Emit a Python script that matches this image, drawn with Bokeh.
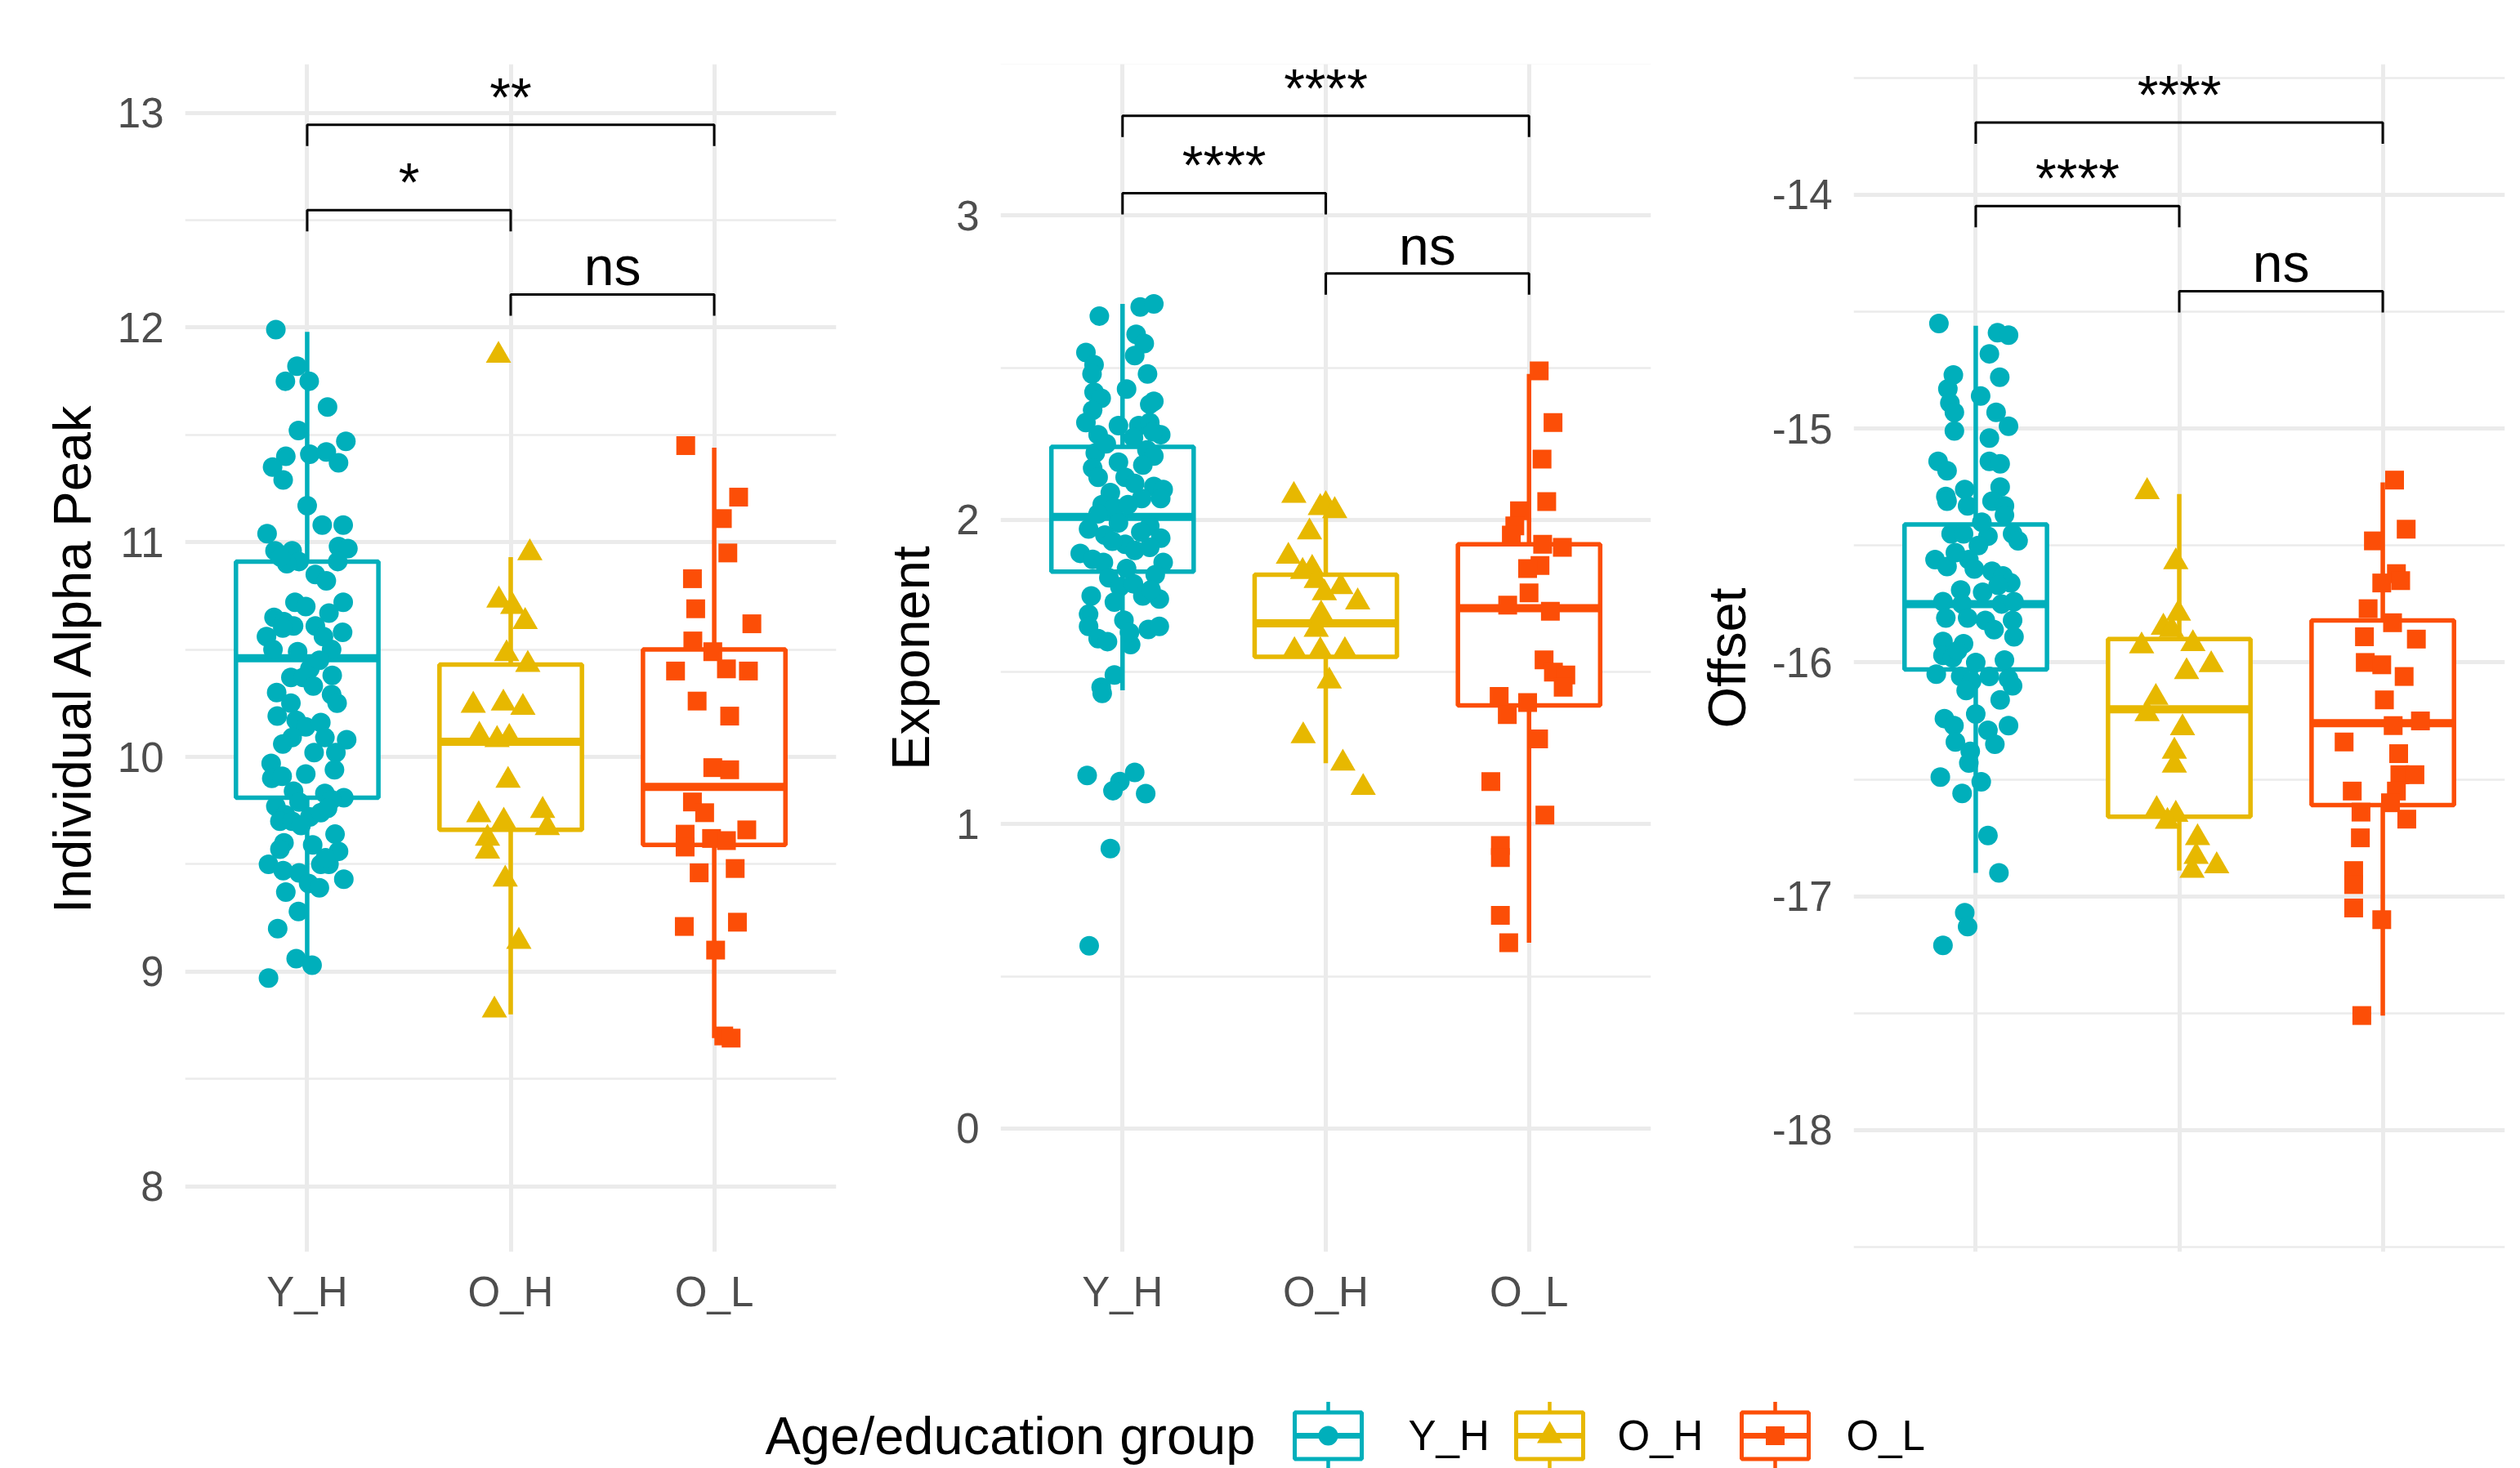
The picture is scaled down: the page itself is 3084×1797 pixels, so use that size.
from bokeh.plotting import figure
from bokeh.layouts import row, column
from bokeh.models import Range1d, FixedTicker
from bokeh.embed import file_html
from bokeh.resources import INLINE
from bokeh.core.properties import value

# ---------------- data ----------------
GROUPS = ["Y_H", "O_H", "O_L"]
COLORS = ["#00AFBB", "#E7B800", "#FC4E07"]
MARKERS = ["circle", "triangle", "square"]
LEGEND_TITLE = "Age/education group"

# Panel 1 : Individual Alpha Peak
iap_yh = [11.99, 11.82, 11.75, 11.75, 11.63, 11.52, 11.47, 11.41, 11.42, 11.37,
          11.40, 11.35, 11.29, 11.17, 11.08, 11.08, 11.04, 10.96, 10.96, 10.91,
          10.90, 10.98, 10.97, 10.91, 10.85, 10.82, 10.72, 10.70, 10.72, 10.67,
          10.65, 10.63, 10.61, 10.61, 10.56, 10.56, 10.58, 10.50, 10.49, 10.50,
          10.41, 10.37, 10.37, 10.38, 10.30, 10.29, 10.25, 10.25, 10.19, 10.17,
          10.14, 10.16, 10.09, 10.09, 10.08, 10.02, 10.02, 9.97, 9.92, 9.94,
          9.90, 9.91, 9.84, 9.83, 9.81, 9.77, 9.73, 9.79, 9.72, 9.74,
          9.80, 9.70, 9.70, 9.64, 9.60, 9.57, 9.59, 9.56, 9.50, 9.47,
          9.46, 9.50, 9.50, 9.43, 9.41, 9.39, 9.37, 9.28, 9.20, 9.06,
          9.03, 8.97, 10.93, 10.60, 10.45, 10.33, 10.06, 9.76, 9.68, 9.53]
iap_yh_jit = [-0.154, -0.050, -0.107, 0.010, 0.100, -0.043, 0.190, 0.013, 0.094, 0.154,
              -0.105, -0.170, -0.118, 0.000, 0.074, 0.177, -0.197, -0.158, -0.074, -0.040,
              -0.100, 0.154, 0.200, 0.150, 0.040, 0.094, -0.060, -0.007, 0.177, 0.107,
              -0.163, -0.114, -0.067, 0.040, -0.200, 0.080, 0.174, -0.168, -0.047, 0.120,
              0.013, -0.080, -0.020, 0.123, -0.150, 0.120, 0.147, -0.080, -0.147, -0.054,
              -0.007, 0.067, -0.074, 0.087, 0.194, 0.034, 0.141, -0.177, -0.007, 0.134,
              -0.174, -0.123, -0.067, 0.087, 0.180, -0.154, -0.107, -0.040, 0.013, 0.067,
              0.120, -0.134, -0.074, 0.137, -0.114, -0.134, 0.027, 0.154, -0.190, -0.118,
              -0.040, 0.067, 0.107, 0.180, 0.007, 0.060, -0.105, -0.043, -0.145, -0.054,
              0.024, -0.190, -0.130, -0.120, 0.060, 0.030, -0.120, 0.100, -0.030, 0.090]
iap_oh = [11.87, 10.95, 10.73, 10.70, 10.63, 10.48, 10.43, 10.24, 10.25, 10.23,
          10.10, 10.08, 10.09, 9.89, 9.73, 9.70, 9.75, 9.67, 9.62, 9.56,
          9.43, 9.14, 8.82]
iap_oh_jit = [-0.060, 0.094, -0.058, 0.010, 0.071, -0.020, 0.084, -0.184, -0.036, 0.060,
              -0.154, -0.067, -0.007, -0.013, -0.157, -0.034, 0.157, 0.180, -0.114, -0.114,
              -0.027, 0.040, -0.080]
iap_ol = [11.45, 11.21, 11.11, 10.95, 10.83, 10.69, 10.62, 10.54, 10.49, 10.40,
          10.41, 10.40, 10.26, 10.19, 9.95, 9.94, 9.79, 9.74, 9.66, 9.64,
          9.58, 9.62, 9.61, 9.46, 9.48, 9.21, 9.23, 9.10, 8.70, 8.69]
iap_ol_jit = [-0.140, 0.120, 0.040, 0.067, -0.107, -0.091, 0.185, -0.105, -0.007, -0.190,
              0.060, 0.168, -0.084, 0.076, -0.007, 0.076, -0.107, -0.047, 0.160, -0.143,
              -0.143, -0.013, 0.060, -0.074, 0.103, -0.147, 0.114, 0.007, 0.047, 0.083]
# box stats: [lower whisker, q1, median, q3, upper whisker] per group
iap_box = [[9.02, 9.81, 10.46, 10.91, 11.98],
           [8.80, 9.66, 10.07, 10.43, 10.93],
           [8.69, 9.59, 9.86, 10.50, 11.44]]
iap_sig_y = [12.944, 12.547, 12.154]
iap_sig_lab = ["**", "*", "ns"]

# Panel 2 : Exponent
exp_yh = [2.67, 2.70, 2.71, 2.61, 2.58, 2.55, 2.54, 2.51, 2.48, 2.48,
          2.43, 2.42, 2.40, 2.39, 2.38, 2.36, 2.32, 2.31, 2.31, 2.32,
          2.28, 2.28, 2.23, 2.27, 2.22, 2.21, 2.17, 2.19, 2.18, 2.14,
          2.14, 2.09, 2.11, 2.10, 2.07, 2.07, 2.05, 2.04, 2.05, 1.99,
          1.97, 1.98, 1.94, 1.95, 1.92, 1.90, 1.89, 1.87, 1.91, 1.86,
          1.86, 1.82, 1.81, 1.78, 1.79, 1.75, 1.75, 1.74, 1.73, 1.69,
          1.65, 1.67, 1.61, 1.60, 1.59, 1.64, 1.65, 1.63, 1.49, 1.45,
          1.43, 1.16, 1.17, 1.14, 1.11, 1.10, 0.92, 0.60, 2.29, 2.25,
          2.12, 2.02, 1.96, 1.93, 1.84, 1.77]
exp_yh_jit = [-0.114, 0.087, 0.154, 0.067, 0.107, -0.180, 0.060, -0.140, -0.150, 0.123,
              0.020, -0.140, -0.105, 0.154, 0.134, -0.147, -0.180, -0.020, 0.080, 0.134,
              0.188, -0.120, 0.120, 0.054, -0.134, 0.154, -0.147, -0.020, 0.100, 0.013,
              -0.120, -0.060, 0.154, 0.200, 0.188, 0.094, -0.100, -0.040, 0.027, -0.020,
              -0.167, 0.134, 0.188, -0.087, 0.013, 0.060, -0.208, -0.147, 0.134, 0.200,
              -0.094, 0.161, -0.067, -0.013, 0.054, -0.154, 0.100, 0.181, -0.040, -0.167,
              -0.167, 0.007, -0.120, -0.074, 0.040, 0.127, 0.181, 0.034, -0.040, -0.105,
              -0.100, -0.174, 0.060, -0.013, -0.047, 0.114, -0.060, -0.164, 0.150, -0.080,
              0.060, -0.120, 0.090, -0.050, 0.020, 0.140]
exp_oh = [2.08, 2.04, 2.05, 2.03, 1.96, 1.88, 1.83, 1.84, 1.80, 1.78,
          1.76, 1.73, 1.69, 1.64, 1.57, 1.57, 1.57, 1.47, 1.29, 1.20,
          1.12]
exp_oh_jit = [-0.157, -0.027, 0.000, 0.044, -0.080, -0.184, -0.114, -0.067, -0.047, 0.074,
              -0.007, 0.157, -0.023, -0.047, -0.154, -0.027, 0.094, 0.017, -0.111, 0.084,
              0.184]
exp_ol = [2.49, 2.32, 2.20, 2.06, 2.03, 1.98, 1.95, 1.92, 1.91, 1.85,
          1.84, 1.76, 1.72, 1.70, 1.54, 1.50, 1.49, 1.45, 1.42, 1.36,
          1.40, 1.28, 1.14, 1.03, 0.93, 0.89, 0.70, 0.61]
exp_ol_jit = [0.050, 0.118, 0.064, 0.087, -0.047, -0.070, -0.087, 0.067, 0.164, 0.054,
              -0.007, 0.000, -0.105, 0.105, 0.074, 0.120, 0.181, 0.168, -0.147, -0.107,
              -0.007, 0.047, -0.188, 0.078, -0.141, -0.141, -0.141, -0.100]
exp_box = [[1.44, 1.83, 2.01, 2.24, 2.71],
           [1.20, 1.55, 1.66, 1.82, 2.06],
           [0.61, 1.39, 1.71, 1.92, 2.48]]
exp_sig_y = [3.328, 3.074, 2.810]
exp_sig_lab = ["****", "****", "ns"]

# Panel 3 : Offset
off_yh = [-14.55, -14.59, -14.60, -14.68, -14.77, -14.78, -14.83, -14.86, -14.89, -14.93,
          -14.93, -14.99, -15.01, -15.04, -15.14, -15.18, -15.14, -15.15, -15.25, -15.26,
          -15.29, -15.31, -15.33, -15.31, -15.33, -15.37, -15.45, -15.45, -15.46, -15.45,
          -15.48, -15.50, -15.56, -15.59, -15.56, -15.60, -15.61, -15.63, -15.66, -15.69,
          -15.70, -15.74, -15.75, -15.75, -15.74, -15.81, -15.81, -15.82, -15.82, -15.89,
          -15.91, -15.92, -15.97, -15.98, -16.00, -15.99, -16.05, -16.06, -16.08, -16.06,
          -16.07, -16.10, -16.12, -16.22, -16.24, -16.27, -16.29, -16.27, -16.34, -16.38,
          -16.35, -16.43, -16.49, -16.51, -16.56, -16.74, -16.90, -17.07, -17.13, -17.21,
          -15.40, -15.53, -15.67, -15.86, -15.95, -16.16]
off_yh_jit = [-0.181, 0.107, 0.161, 0.067, -0.110, 0.118, -0.137, 0.024, -0.127, 0.100,
              -0.105, 0.161, -0.105, 0.067, -0.185, -0.141, 0.067, 0.120, 0.120, -0.054,
              -0.147, -0.141, -0.040, 0.080, 0.141, 0.141, -0.121, -0.060, 0.060, 0.181,
              0.208, 0.013, -0.200, -0.141, -0.034, -0.007, 0.080, 0.134, 0.172, -0.074,
              0.034, -0.161, -0.067, 0.127, 0.188, -0.147, -0.040, 0.047, 0.181, 0.188,
              -0.161, -0.060, -0.161, -0.114, 0.000, 0.141, -0.194, -0.074, -0.020, 0.067,
              0.161, 0.181, -0.047, 0.000, -0.154, -0.107, 0.060, 0.161, -0.100, -0.027,
              0.094, -0.034, -0.174, 0.027, -0.067, 0.060, 0.114, -0.054, -0.040, -0.161,
              0.030, -0.100, 0.110, 0.090, -0.090, 0.120]
off_oh = [-15.27, -15.57, -15.79, -15.85, -15.86, -15.93, -15.92, -16.01, -16.04, -16.15,
          -16.22, -16.28, -16.38, -16.44, -16.63, -16.65, -16.68, -16.75, -16.83, -16.87,
          -16.89]
off_oh_jit = [-0.158, -0.017, -0.004, -0.078, -0.038, -0.185, 0.067, 0.157, 0.036, -0.115,
              -0.158, 0.016, -0.024, -0.024, -0.111, -0.017, -0.058, 0.090, 0.083, 0.184,
              0.063]
off_ol = [-15.22, -15.43, -15.48, -15.62, -15.65, -15.66, -15.77, -15.83, -15.89, -15.90,
          -16.00, -16.01, -16.06, -16.16, -16.27, -16.25, -16.34, -16.39, -16.48, -16.48,
          -16.55, -16.55, -16.60, -16.64, -16.67, -16.75, -16.89, -16.95, -17.05, -17.10,
          -17.51]
off_ol_jit = [0.058, 0.115, -0.046, 0.067, 0.088, -0.005, -0.072, 0.048, -0.090, 0.165,
              -0.086, -0.005, 0.105, 0.008, 0.051, 0.185, -0.190, 0.078, 0.084, 0.158,
              -0.150, 0.067, 0.038, -0.107, 0.118, -0.110, -0.143, -0.143, -0.143, -0.005,
              -0.103]
off_box = [[-16.90, -16.03, -15.75, -15.41, -14.56],
           [-16.89, -16.66, -16.20, -15.90, -15.28],
           [-17.51, -16.61, -16.26, -15.82, -15.23]]
off_sig_y = [-13.691, -14.048, -14.412]
off_sig_lab = ["****", "****", "ns"]

SIG_PAIRS = [(1, 3), (1, 2), (2, 3)]

# ---------------- style ----------------
FONT = "Liberation Sans"
GRID = "#EBEBEB"
ROW_H = 1648
TOP, BOTTOM = 78, 116
FRAME_H = ROW_H - TOP - BOTTOM
POS = [1, 2, 3]
BOX_HALF = 0.35
MSIZE = {"circle": 24, "triangle": 31, "square": 23}
LW = 5.5
LABEL_LIFT = 34  # px between bracket and label baseline (empirically tuned)


def tick_text(t):
    return str(int(t)) if float(t).is_integer() else str(t)


def make_panel(vals, jits, box, yr, yticks, yminor, ylabel, sig_y, sig_lab,
               show_x, width, bl, br):
    p = figure(width=width, height=ROW_H, x_range=Range1d(0.4, 3.6),
               y_range=Range1d(*yr), toolbar_location=None, output_backend="svg",
               min_border_left=bl, min_border_right=br,
               min_border_top=TOP, min_border_bottom=BOTTOM)
    p.outline_line_color = None
    p.background_fill_color = "white"
    p.border_fill_color = "white"

    xt = FixedTicker(ticks=POS, minor_ticks=[])
    yt = FixedTicker(ticks=yticks, minor_ticks=yminor)
    p.xaxis.ticker = xt
    p.yaxis.ticker = yt
    p.xgrid.ticker = xt
    p.ygrid.ticker = yt
    p.xgrid.grid_line_color = GRID
    p.xgrid.grid_line_width = 5
    p.ygrid.grid_line_color = GRID
    p.ygrid.grid_line_width = 5
    p.ygrid.minor_grid_line_color = GRID
    p.ygrid.minor_grid_line_width = 2.5

    for ax in (p.xaxis[0], p.yaxis[0]):
        ax.axis_line_color = None
        ax.major_tick_line_color = None
        ax.minor_tick_line_color = None
        ax.major_tick_out = 0
        ax.major_tick_in = 0
        ax.minor_tick_out = 0
        ax.minor_tick_in = 0
        ax.major_label_text_font = FONT
        ax.major_label_text_font_size = "51px"
        ax.major_label_text_color = "#4D4D4D"
    p.xaxis.major_label_overrides = {pos: g for pos, g in zip(POS, GROUPS)}
    p.xaxis.major_label_standoff = 20
    p.xaxis.visible = show_x
    p.yaxis.major_label_overrides = {t: tick_text(t) for t in yticks}
    p.yaxis.major_label_standoff = 26
    p.yaxis.axis_label = ylabel
    p.yaxis.axis_label_text_font = FONT
    p.yaxis.axis_label_text_font_size = "65px"
    p.yaxis.axis_label_text_font_style = "normal"
    p.yaxis.axis_label_text_color = "black"
    p.yaxis.axis_label_standoff = 16

    lo = [b[0] for b in box]
    q1 = [b[1] for b in box]
    md = [b[2] for b in box]
    q3 = [b[3] for b in box]
    hi = [b[4] for b in box]
    # whiskers
    p.segment(x0=POS, y0=q3, x1=POS, y1=hi, line_color=COLORS, line_width=LW)
    p.segment(x0=POS, y0=lo, x1=POS, y1=q1, line_color=COLORS, line_width=LW)
    # boxes
    p.quad(left=[x - BOX_HALF for x in POS], right=[x + BOX_HALF for x in POS],
           bottom=q1, top=q3, fill_color="white", line_color=COLORS, line_width=LW)
    p.segment(x0=[x - BOX_HALF for x in POS], x1=[x + BOX_HALF for x in POS],
              y0=md, y1=md, line_color=COLORS, line_width=2 * LW - 1)
    # jittered points
    for i, (v, j) in enumerate(zip(vals, jits)):
        n = min(len(v), len(j))
        p.scatter(x=[POS[i] + j[k] for k in range(n)], y=v[:n], marker=MARKERS[i],
                  size=MSIZE[MARKERS[i]], fill_color=COLORS[i], line_color=None)
    # significance brackets
    span = yr[1] - yr[0]
    ppu = FRAME_H / span
    tip = 26 / ppu
    xs, ys, tx = [], [], []
    for (a, b), y in zip(SIG_PAIRS, sig_y):
        xs.append([a, a, b, b])
        ys.append([y - tip, y, y, y - tip])
        tx.append((a + b) / 2)
    p.multi_line(xs=xs, ys=ys, line_color="black", line_width=3)
    p.text(x=tx, y=[y + LABEL_LIFT / ppu for y in sig_y], text=sig_lab,
           text_font=value(FONT), text_font_size="66px", text_align="center",
           text_baseline="alphabetic", text_color="black")
    return p


f1 = make_panel([iap_yh, iap_oh, iap_ol], [iap_yh_jit, iap_oh_jit, iap_ol_jit], iap_box,
                (7.694, 13.227), [8, 9, 10, 11, 12, 13],
                [8.5, 9.5, 10.5, 11.5, 12.5], "Individual Alpha Peak",
                iap_sig_y, iap_sig_lab, True, 1040, 226, 17)
f2 = make_panel([exp_yh, exp_oh, exp_ol], [exp_yh_jit, exp_oh_jit, exp_ol_jit], exp_box,
                (-0.406, 3.498), [0, 1, 2, 3], [0.5, 1.5, 2.5, 3.5], "Exponent",
                exp_sig_y, exp_sig_lab, True, 1000, 184, 20)
f3 = make_panel([off_yh, off_oh, off_ol], [off_yh_jit, off_oh_jit, off_ol_jit], off_box,
                (-18.521, -13.441), [-18, -17, -16, -15, -14],
                [-18.5, -17.5, -16.5, -15.5, -14.5, -13.5], "Offset",
                off_sig_y, off_sig_lab, False, 1036, 228, 11)

# ---------------- legend ----------------
LEG_W, LEG_H = 3076, 149
leg = figure(width=LEG_W, height=LEG_H, x_range=Range1d(0, LEG_W),
             y_range=Range1d(LEG_H, 0), toolbar_location=None, output_backend="svg",
             min_border=0)
leg.axis.visible = False
leg.grid.visible = False
leg.outline_line_color = None
leg.background_fill_color = "white"
leg.border_fill_color = "white"

cy = 109
key_cx = [1625, 1896, 2172]
lab_x = [1723, 1979, 2259]
kw, kh = 41, 28.5
leg.text(x=[936], y=[cy], text=[LEGEND_TITLE], text_font=value(FONT),
         text_font_size="65px", text_align="left", text_baseline="middle",
         text_color="black")
leg.segment(x0=key_cx, x1=key_cx, y0=[cy - kh - 13] * 3, y1=[cy - kh] * 3,
            line_color=COLORS, line_width=4.5)
leg.segment(x0=key_cx, x1=key_cx, y0=[cy + kh] * 3, y1=[LEG_H + 5] * 3,
            line_color=COLORS, line_width=4.5)
leg.quad(left=[c - kw for c in key_cx], right=[c + kw for c in key_cx],
         top=[cy - kh] * 3, bottom=[cy + kh] * 3, fill_color="white",
         line_color=COLORS, line_width=5)
leg.segment(x0=[c - kw for c in key_cx], x1=[c + kw for c in key_cx],
            y0=[cy] * 3, y1=[cy] * 3, line_color=COLORS, line_width=7)
for i in range(3):
    leg.scatter(x=[key_cx[i]], y=[cy], marker=MARKERS[i], size=MSIZE[MARKERS[i]],
                fill_color=COLORS[i], line_color=None)
leg.text(x=lab_x, y=[cy] * 3, text=GROUPS, text_font=value(FONT),
         text_font_size="51px", text_align="left", text_baseline="middle",
         text_color="black")

layout = column(row(f1, f2, f3, spacing=0), leg, spacing=0)
open("out.html", "w").write(file_html(layout, INLINE))
